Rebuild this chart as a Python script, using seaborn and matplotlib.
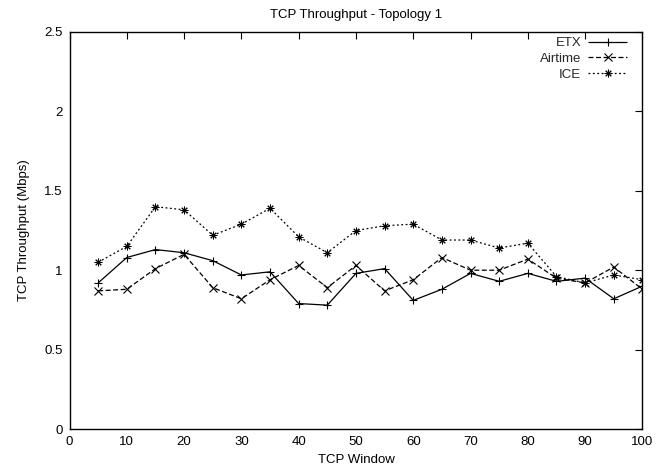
import matplotlib
matplotlib.use("Agg")
import matplotlib.pyplot as plt
import seaborn as sns
import pandas as pd
from matplotlib.lines import Line2D
from matplotlib.ticker import FuncFormatter

windows = [5, 10, 15, 20, 25, 30, 35, 40, 45, 50, 55, 60, 65, 70, 75, 80, 85, 90, 95, 100]
etx = [0.92, 1.08, 1.13, 1.11, 1.06, 0.97, 0.99, 0.79, 0.78, 0.98,
       1.01, 0.81, 0.88, 0.98, 0.93, 0.98, 0.93, 0.95, 0.82, 0.90]
airtime = [0.87, 0.88, 1.01, 1.10, 0.89, 0.82, 0.94, 1.03, 0.89, 1.03,
           0.87, 0.94, 1.08, 1.00, 1.00, 1.07, 0.95, 0.92, 1.02, 0.88]
ice = [1.05, 1.15, 1.40, 1.38, 1.22, 1.29, 1.39, 1.21, 1.11, 1.25,
       1.28, 1.29, 1.19, 1.19, 1.14, 1.17, 0.96, 0.92, 0.97, 0.94]
series_names = ["ETX", "Airtime", "ICE"]

line_dashes = {"ETX": (1, 0), "Airtime": (4, 2), "ICE": (1.5, 2)}
line_markers = {"ETX": "+", "Airtime": "x", "ICE": (8, 2, 0)}

df = pd.concat([
    pd.DataFrame({"TCP Window": windows, "Throughput": vals, "Metric": name})
    for name, vals in zip(series_names, [etx, airtime, ice])
])

sns.set_theme(style="white")
plt.rcParams["font.family"] = ["Liberation Sans", "DejaVu Sans"]
FS = 9.5

fig = plt.figure(figsize=(6.57, 4.74), dpi=100)
ax = fig.add_axes([0.1058, 0.0949, 0.872, 0.8376])

sns.lineplot(
    data=df, x="TCP Window", y="Throughput", hue="Metric", style="Metric",
    palette={n: "black" for n in series_names},
    dashes=line_dashes, markers=line_markers,
    markersize=6, markeredgewidth=0.8, markeredgecolor="black",
    linewidth=0.9, ax=ax, legend=False,
)
# the asterisk glyph reads heavier than + and x, so trim it a little
ice_line = ax.lines[2]
ice_line.set_markersize(5.5)
ice_line.set_markeredgewidth(0.7)

ax.set_xlim(0, 100)
ax.set_ylim(0, 2.5)
ax.set_xticks(range(0, 101, 10))
ax.set_yticks([0, 0.5, 1, 1.5, 2, 2.5])
ax.yaxis.set_major_formatter(FuncFormatter(lambda v, p: f"{v:g}"))
ax.tick_params(direction="in", length=5, width=0.8, top=True, right=True,
               labelsize=FS, colors="black", pad=5)
for s in ax.spines.values():
    s.set_color("black")
    s.set_linewidth(1.0)

ax.set_xlabel("TCP Window", fontsize=FS, color="black", labelpad=4)
ax.set_ylabel("TCP Throughput (Mbps)", fontsize=FS, color="black", labelpad=10)
ax.set_title("TCP Throughput - Topology 1", fontsize=FS, color="black", pad=10)

handles = [
    Line2D([], [], color="black", linewidth=0.9, dashes=line_dashes[n],
           marker=line_markers[n], markersize=5.5 if n == "ICE" else 6,
           markeredgewidth=0.7 if n == "ICE" else 0.8)
    for n in series_names
]
leg = ax.legend(handles, series_names, loc="upper right", frameon=False,
                markerfirst=False, fontsize=FS, handlelength=3.0,
                handletextpad=0.5, labelspacing=0.25,
                bbox_to_anchor=(0.99, 1.01), borderaxespad=0.3)
for t in leg.get_texts():
    t.set_ha("right")
leg._legend_box.align = "right"

fig.savefig("out.png", dpi=100)
